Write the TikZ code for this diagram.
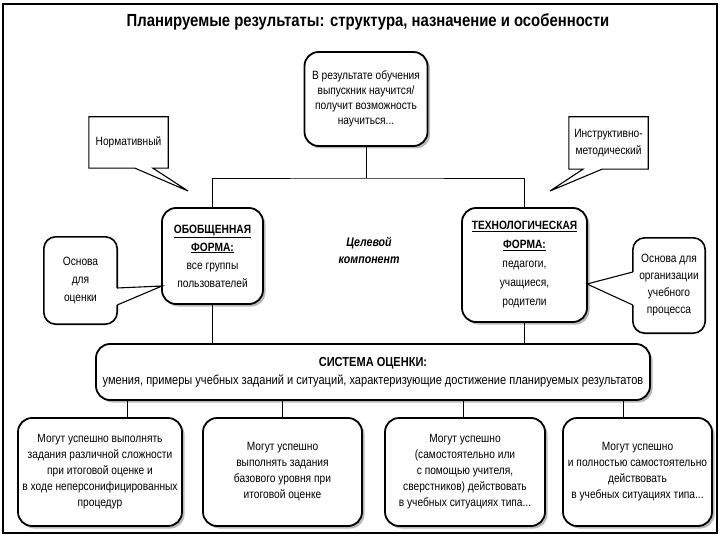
\documentclass[tikz,border=0pt]{standalone}
\usepackage{fontspec}
\setmainfont{Liberation Sans}[FakeStretch=0.85]
\usetikzlibrary{shadows}

\tikzset{
  roundbox/.style={draw, line width=1.8pt, rounded corners=14pt, fill=white, align=center,
    inner sep=1pt, drop shadow={shadow xshift=2.5pt, shadow yshift=-2.5pt, fill=black!55}},
  notebox/.style={align=center, inner sep=1pt},
  noteline/.style={line width=1.1pt},
  roundnoteline/.style={line width=1.6pt, rounded corners=12pt},
  link/.style={line width=0.9pt},
}

\begin{document}
\begin{tikzpicture}[x=1pt, y=-1pt, every node/.style={font=\fontsize{12}{15}\selectfont}]
  \useasboundingbox (0,0) rectangle (720,540);
  \draw[line width=1.8pt] (3,4) rectangle (717,533);
  \node[font=\bfseries\fontsize{17.5}{20}\selectfont] (title) at (368,22)
    {Планируемые результаты: структура, назначение и особенности};

  \node[roundbox, minimum width=123pt, minimum height=94pt] (goal) at (366,99)
    {В результате обучения\\выпускник научится/\\получит возможность\\научиться...};
  \node[roundbox, minimum width=101pt, minimum height=96pt, font=\fontsize{12}{18}\selectfont] (gen) at (212.5,256)
    {\underline{\textbf{ОБОБЩЕННАЯ}}\\\underline{\textbf{ФОРМА:}}\\все группы\\пользователей};
  \node[roundbox, minimum width=125pt, minimum height=114pt, font=\fontsize{12}{19}\selectfont] (tech) at (524.5,265)
    {\underline{\textbf{ТЕХНОЛОГИЧЕСКАЯ}}\\\underline{\textbf{ФОРМА:}}\\педагоги,\\учащиеся,\\родители};
  \node[align=center, font=\bfseries\itshape\fontsize{12.5}{17}\selectfont] (aim) at (369,250)
    {Целевой\\компонент};
  \node[roundbox, minimum width=554pt, minimum height=56pt, font=\fontsize{13}{18}\selectfont] (sys) at (373,372)
    {\textbf{СИСТЕМА ОЦЕНКИ:}\\умения, примеры учебных заданий и ситуаций, характеризующие достижение планируемых результатов};

  \node[roundbox, minimum width=164pt, minimum height=108pt, font=\fontsize{12}{16}\selectfont] (b1) at (100,472)
    {Могут успешно выполнять\\задания различной сложности\\при итоговой оценке и\\в ходе неперсонифицированных\\процедур};
  \node[roundbox, minimum width=159pt, minimum height=108pt, font=\fontsize{12}{16}\selectfont] (b2) at (282.5,472)
    {Могут успешно\\выполнять задания\\базового уровня при\\итоговой оценке};
  \node[roundbox, minimum width=160pt, minimum height=108pt, font=\fontsize{12}{16}\selectfont] (b3) at (465,472)
    {Могут успешно\\(самостоятельно или\\с помощью учителя,\\сверстников) действовать\\в учебных ситуациях типа...};
  \node[roundbox, minimum width=149pt, minimum height=108pt, font=\fontsize{12}{16}\selectfont] (b4) at (637.5,472)
    {Могут успешно\\и полностью самостоятельно\\действовать\\в учебных ситуациях типа...};

  \node[notebox, minimum width=79pt, minimum height=51pt] (norm) at (128.5,142.5) {Нормативный};
  \coordinate (normtip) at (188,191);
  \draw[noteline] (norm.north west) -- (norm.north east) -- (norm.south east)
    -- (153,0 |- norm.south) -- (normtip) -- (135,0 |- norm.south) -- (norm.south west) -- cycle;

  \node[notebox, minimum width=79pt, minimum height=52pt, font=\fontsize{12}{17}\selectfont] (instr) at (608.5,143)
    {Инструктивно-\\методический};
  \coordinate (instrtip) at (550,191);
  \draw[noteline] (instr.north west) -- (instr.north east) -- (instr.south east)
    -- (602,0 |- instr.south) -- (instrtip) -- (583,0 |- instr.south) -- (instr.south west) -- cycle;

  \node[notebox, minimum width=73pt, minimum height=87pt, font=\fontsize{12}{18}\selectfont] (evalnote) at (80.5,280.5)
    {Основа\\для\\оценки};
  \coordinate (evaltip) at (162,286);
  \draw[roundnoteline] (evalnote.east |- 0,305) -- (evalnote.south east) -- (evalnote.south west)
    -- (evalnote.north west) -- (evalnote.north east) -- (evalnote.east |- 0,288);
  \draw[noteline] (evalnote.east |- 0,288) -- (evaltip) -- (evalnote.east |- 0,305);

  \node[notebox, minimum width=72pt, minimum height=95pt, font=\fontsize{12}{17}\selectfont] (orgnote) at (669,285.5)
    {Основа для\\организации\\учебного\\процесса};
  \coordinate (orgtip) at (587,284);
  \draw[roundnoteline] (orgnote.west |- 0,272) -- (orgnote.north west) -- (orgnote.north east)
    -- (orgnote.south east) -- (orgnote.south west) -- (orgnote.west |- 0,305);
  \draw[noteline] (orgnote.west |- 0,272) -- (orgtip) -- (orgnote.west |- 0,305);

  \coordinate (junc) at (366,178);
  \draw[link] (goal.south) -- (junc);
  \draw[link] (gen.north) |- (junc) -| (tech.north);
  \draw[link] (gen.south) -- (gen.south |- sys.north);
  \draw[link] (tech.south) -- (tech.south |- sys.north);
  \foreach \b/\x in {b1/127, b2/282, b3/463, b4/623}
    \draw[link] (\x,0 |- sys.south) -- (\x,0 |- \b.north);
\end{tikzpicture}
\end{document}
